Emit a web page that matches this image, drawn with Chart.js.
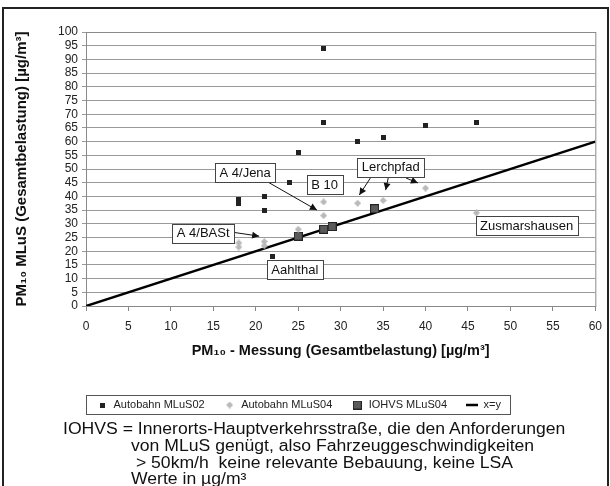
<!DOCTYPE html>
<html lang="de">
<head>
<meta charset="UTF-8">
<title>PM10 MLuS / Messung</title>
<script src="https://cdn.jsdelivr.net/npm/chart.js"></script>
<style>
  body { margin: 0; background: #fff; font-family: 'Liberation Sans', Arial, sans-serif; }
  .page { position: relative; width: 610px; height: 486px; overflow: hidden; }
  .frame { position: absolute; left: 2px; top: 7px; width: 603px; height: 520px; border: 2px solid #222; }
  canvas { position: absolute; left: 0; top: 0; }
  .note { position: absolute; font-size: 16px; color: #111; white-space: pre; line-height: 17px;
          transform: scaleX(1.1); transform-origin: 0 0; }
</style>
</head>
<body>
<div class="page">
  <div class="frame"></div>
  <canvas id="chart" width="610" height="486"></canvas>
  <div class="note" style="left:63px; top:420px;">IOHVS = Innerorts-Hauptverkehrsstraße, die den Anforderungen</div>
  <div class="note" style="left:131px; top:437px;">von MLuS genügt, also Fahrzeuggeschwindigkeiten</div>
  <div class="note" style="left:131px; top:454px;"> &gt; 50km/h  keine relevante Bebauung, keine LSA</div>
  <div class="note" style="left:131px; top:470px;">Werte in µg/m³</div>
</div>
<script>
// Messwerte (x = Messung, y = MLuS)
const mlus02X = [28, 28, 25, 24, 18, 18, 21, 21, 22, 32, 35, 40, 46];
const mlus02Y = [94, 67, 56, 45, 37.5, 39, 40, 35, 18, 60, 61.5, 66, 67];
const mlus04X = [28, 28, 25, 18, 18, 21, 21, 32, 35, 40, 46];
const mlus04Y = [38, 33, 28, 23, 21.5, 23.5, 22, 37.5, 38.5, 43, 34];
const iohvsX = [25, 28, 29, 34];
const iohvsY = [25.5, 28, 29, 35.5];
const diagX = [0, 60];
const diagY = [0, 60];

const seriesNames = ['Autobahn MLuS02', 'Autobahn MLuS04', 'IOHVS MLuS04', 'x=y'];

// Beschriftungen im Diagramm (Datenkoordinaten)
const labels = [
  { text: 'A 4/Jena', x: 18.75, y: 48.7, arrows: [[21.0, 46.0, 27.2, 35.0]] },
  { text: 'B 10', x: 28.1, y: 44.3, arrows: [] },
  { text: 'Lerchpfad', x: 35.9, y: 50.7, arrows: [[33.5, 46.7, 32.2, 40.5], [35.6, 46.7, 35.3, 42.3], [37.7, 46.7, 39.1, 44.9]] },
  { text: 'A 4/BASt', x: 13.8, y: 26.6, arrows: [[17.1, 27.0, 20.4, 25.5], [16.0, 25.5, 16.9, 24.0]] },
  { text: 'Aahlthal', x: 24.6, y: 13.3, arrows: [] },
  { text: 'Zusmarshausen', x: 51.9, y: 29.2, arrows: [] }
];

const FONT = "'Liberation Sans', Arial, sans-serif";
const LEGEND_PAD = 19;
const LEGEND_Y = 405;

function marker(size, paint) {
  const c = document.createElement('canvas');
  c.width = size; c.height = size;
  paint(c.getContext('2d'), size);
  return c;
}
const sqSmall = marker(5, (g, s) => { g.fillStyle = '#222'; g.fillRect(0, 0, s, s); });
const diamond = marker(7, (g, s) => {
  g.fillStyle = '#b9b9b9';
  g.beginPath(); g.moveTo(s / 2, 0); g.lineTo(s, s / 2); g.lineTo(s / 2, s); g.lineTo(0, s / 2); g.closePath(); g.fill();
});
const sqBig = marker(9, (g, s) => {
  g.fillStyle = '#222'; g.fillRect(0, 0, s, s);
  g.fillStyle = '#5a5a5a'; g.fillRect(1, 1, s - 2, s - 2);
});

const pts = (xs, ys) => xs.map((x, i) => ({ x: x, y: ys[i] }));

const framePlugin = {
  id: 'frame',
  afterLayout(chart) {
    // Legende in den Kasten unter dem Diagramm setzen
    const lg = chart.legend;
    lg.left = 96 - LEGEND_PAD; lg.right = 610; lg.width = lg.right - lg.left;
    lg.top = LEGEND_Y - LEGEND_PAD - 5.5;
    lg.bottom = lg.top + lg.height;
  },
  beforeDatasetsDraw(chart) {
    const { ctx, chartArea: a } = chart;
    ctx.save();
    ctx.strokeStyle = '#8a8a8a';
    ctx.lineWidth = 1;
    ctx.strokeRect(a.left + 0.5, a.top + 0.5, a.right - a.left, a.bottom - a.top);
    ctx.restore();
  },
  afterDatasetsDraw(chart) {
    const { ctx } = chart;
    const sx = chart.scales.x, sy = chart.scales.y;
    ctx.save();
    ctx.font = '13px ' + FONT;
    ctx.textAlign = 'center';
    ctx.textBaseline = 'middle';
    labels.forEach(l => {
      l.arrows.forEach(a => {
        const x1 = sx.getPixelForValue(a[0]), y1 = sy.getPixelForValue(a[1]);
        const x2 = sx.getPixelForValue(a[2]), y2 = sy.getPixelForValue(a[3]);
        const ang = Math.atan2(y2 - y1, x2 - x1);
        ctx.strokeStyle = '#111'; ctx.fillStyle = '#111'; ctx.lineWidth = 1;
        ctx.beginPath(); ctx.moveTo(x1, y1); ctx.lineTo(x2, y2); ctx.stroke();
        ctx.beginPath();
        ctx.moveTo(x2, y2);
        ctx.lineTo(x2 - 7 * Math.cos(ang) + 3.5 * Math.sin(ang), y2 - 7 * Math.sin(ang) - 3.5 * Math.cos(ang));
        ctx.lineTo(x2 - 7 * Math.cos(ang) - 3.5 * Math.sin(ang), y2 - 7 * Math.sin(ang) + 3.5 * Math.cos(ang));
        ctx.closePath(); ctx.fill();
      });
      const cx = sx.getPixelForValue(l.x), cy = sy.getPixelForValue(l.y);
      const w = Math.round(ctx.measureText(l.text).width + 9), h = 19;
      const bx = Math.round(cx - w / 2) + 0.5, by = Math.round(cy - h / 2) + 0.5;
      ctx.fillStyle = '#fff';
      ctx.fillRect(bx, by, w, h);
      ctx.strokeStyle = '#444';
      ctx.strokeRect(bx, by, w, h);
      ctx.fillStyle = '#111';
      ctx.fillText(l.text, cx, cy + 0.5);
    });
    ctx.restore();
  },
  afterDraw(chart) {
    const { ctx } = chart;
    ctx.save();
    ctx.strokeStyle = '#555';
    ctx.lineWidth = 1;
    ctx.strokeRect(86.5, LEGEND_Y - 9.5, 424, 19);
    ctx.restore();
  }
};

new Chart(document.getElementById('chart'), {
  type: 'scatter',
  data: {
    datasets: [
      { label: seriesNames[0], data: pts(mlus02X, mlus02Y), pointStyle: sqSmall, pointRadius: 3, backgroundColor: '#222', borderColor: '#222' },
      { label: seriesNames[1], data: pts(mlus04X, mlus04Y), pointStyle: diamond, pointRadius: 3, backgroundColor: '#b9b9b9', borderColor: '#b9b9b9' },
      { label: seriesNames[2], data: pts(iohvsX, iohvsY), pointStyle: sqBig, pointRadius: 4, backgroundColor: '#5a5a5a', borderColor: '#222' },
      { label: seriesNames[3], data: pts(diagX, diagY), showLine: true, pointRadius: 0, pointStyle: 'line', borderColor: '#000', backgroundColor: '#000', borderWidth: 2.5 }
    ]
  },
  options: {
    responsive: false,
    animation: false,
    devicePixelRatio: 1,
    layout: { padding: { top: 32, right: 12, left: 0, bottom: 70 } },
    plugins: {
      legend: {
        position: 'bottom',
        align: 'start',
        labels: {
          usePointStyle: true,
          pointStyleWidth: 12,
          padding: LEGEND_PAD,
          color: '#222',
          font: { family: FONT, size: 11 }
        }
      },
      tooltip: { enabled: false }
    },
    scales: {
      x: {
        type: 'linear',
        min: 0, max: 60,
        afterFit: s => { s.height = 70; },
        ticks: { stepSize: 5, padding: 8, color: '#222', font: { family: FONT, size: 12 } },
        grid: { drawOnChartArea: false, drawTicks: true, tickLength: 5, color: '#888' },
        border: { color: '#777' },
        title: {
          display: true,
          text: 'PM₁₀ - Messung (Gesamtbelastung) [µg/m³]',
          color: '#111',
          font: { family: FONT, size: 14.5, weight: 'bold' },
          padding: { top: 4, bottom: 16 }
        }
      },
      y: {
        type: 'linear',
        min: 0, max: 100,
        afterFit: s => { s.width = 86; },
        ticks: { stepSize: 5, autoSkip: false, padding: 4, color: '#222', font: { family: FONT, size: 12 } },
        grid: { color: '#9a9a9a', tickLength: 4 },
        border: { color: '#777' },
        title: {
          display: true,
          text: 'PM₁₀ MLuS (Gesamtbelastung) [µg/m³]',
          color: '#111',
          font: { family: FONT, size: 15, weight: 'bold' },
          padding: { top: 13, bottom: 4 }
        }
      }
    }
  },
  plugins: [framePlugin]
});
</script>
</body>
</html>
